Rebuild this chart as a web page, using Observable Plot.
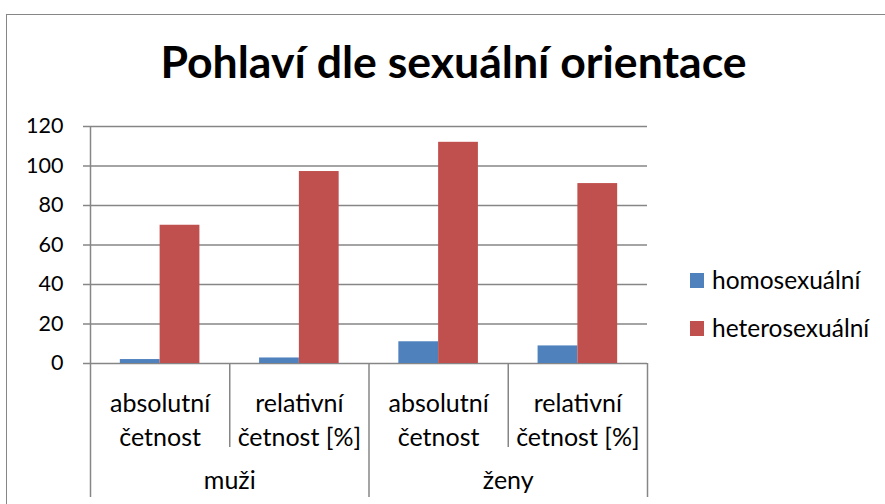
<!DOCTYPE html>
<html>
<head>
<meta charset="utf-8">
<script src="https://cdn.jsdelivr.net/npm/d3@7"></script>
<script src="https://cdn.jsdelivr.net/npm/@observablehq/plot@0.6"></script>
<style>
  html, body { margin: 0; padding: 0; background: #fff; }
  #wrap { position: relative; width: 885px; height: 504px; overflow: hidden; font-family: Lato, sans-serif; }
  #border { position: absolute; left: 6px; top: 14px; width: 900px; height: 600px;
            border-left: 1.5px solid #868686; border-top: 1.5px solid #868686; }
  #title { position: absolute; left: 0; width: 907px; top: 0; height: 84px; line-height: 1;
           text-align: center; font-weight: 700; font-size: 44.6px; color: #000; }
  #title span { position: absolute; left: 0; right: 0; bottom: 0; }
  #chart { position: absolute; left: 0; top: 0; }
  .legend-item { position: absolute; left: 690px; font-size: 24.5px; color: #000; white-space: nowrap; }
  .legend-item i { position: absolute; left: 0; width: 14px; height: 15px; }
  .legend-item span { position: absolute; left: 22px; }
</style>
</head>
<body>
<div id="wrap">
  <div id="border"></div>
  <div id="title"></div>
  <div id="chart"></div>
  <div id="legend"></div>
</div>
<script>
// ---- data ----
const titleText = "Pohlaví dle sexuální orientace";
const groups = ["muži", "ženy"];
const measures = ["absolutní\nčetnost", "relativní\nčetnost [%]"];
const seriesNames = ["homosexuální", "heterosexuální"];
const homoValues = [2, 2.8, 11, 8.9];
const heteroValues = [70, 97.2, 112, 91.1];
const yTicks = [0, 20, 40, 60, 80, 100, 120];
const seriesColors = ["#4F81BD", "#C0504D"];

// ---- tables ----
const categories = [];
groups.forEach((g, gi) => measures.forEach((m, mi) => {
  categories.push({index: gi * measures.length + mi, group: g, measure: m});
}));
const seriesValues = [homoValues, heteroValues];
const gapWidth = 1.5; // Excel gap width 150%
const slots = seriesNames.length + gapWidth;
const bars = [];
categories.forEach(c => seriesNames.forEach((s, si) => {
  const start = c.index + (gapWidth / 2 + si) / slots;
  bars.push({category: c.index, series: s, value: seriesValues[si][c.index], x1: start, x2: start + 1 / slots});
}));
const nCat = categories.length;
const catBounds = d3.range(1, nCat, measures.length);             // inner category boundaries
const groupBounds = d3.range(0, nCat + 1, measures.length);       // group boundaries
const groupCenters = groups.map((g, gi) => ({group: g, x: gi * measures.length + measures.length / 2}));
const lineColor = "#868686";

const chart = Plot.plot({
  width: 885,
  height: 504,
  marginLeft: 90,
  marginRight: 238,
  marginTop: 126,
  marginBottom: 141,
  style: {fontFamily: "Lato, sans-serif", fontSize: "25px", background: "transparent", overflow: "visible", color: "#000"},
  x: {type: "linear", domain: [0, nCat], axis: null},
  y: {domain: [0, 120]},
  color: {domain: seriesNames, range: seriesColors},
  marks: [
    Plot.gridY(yTicks, {stroke: lineColor, strokeOpacity: 1, strokeWidth: 1.5}),
    Plot.axisY(yTicks, {tickSize: 7, tickPadding: 20, fontSize: 21.5, stroke: lineColor, strokeWidth: 1.5, fill: "#000", label: null, tickFormat: d3.format("d")}),
    Plot.ruleX([0], {stroke: lineColor, strokeWidth: 1.5}),
    Plot.rect(bars, {x1: "x1", x2: "x2", y1: 0, y2: "value", fill: "series"}),
    Plot.ruleX(catBounds, {y1: 0, insetBottom: -84, stroke: lineColor, strokeWidth: 1.5}),
    Plot.ruleX(groupBounds, {y1: 0, insetBottom: -134, stroke: lineColor, strokeWidth: 1.5}),
    Plot.text(categories, {x: d => d.index + 0.5, text: "measure", frameAnchor: "bottom", lineAnchor: "top", dy: 24.3, lineHeight: 1.37, fill: "#000", fontSize: 25}),
    Plot.text(groupCenters, {x: "x", text: "group", frameAnchor: "bottom", lineAnchor: "top", dy: 107.3, fill: "#000", fontSize: 25})
  ]
});
document.getElementById("chart").appendChild(chart);

// title
const t = document.createElement("span");
t.textContent = titleText;
document.getElementById("title").appendChild(t);

// legend
const legend = document.getElementById("legend");
const legendTops = [265, 313];
seriesNames.forEach((s, i) => {
  const item = document.createElement("div");
  item.className = "legend-item";
  item.style.top = legendTops[i] + "px";
  const sw = document.createElement("i");
  sw.style.background = seriesColors[i];
  sw.style.top = "8px";
  const lab = document.createElement("span");
  lab.textContent = s;
  item.appendChild(sw); item.appendChild(lab);
  legend.appendChild(item);
});
</script>
</body>
</html>
